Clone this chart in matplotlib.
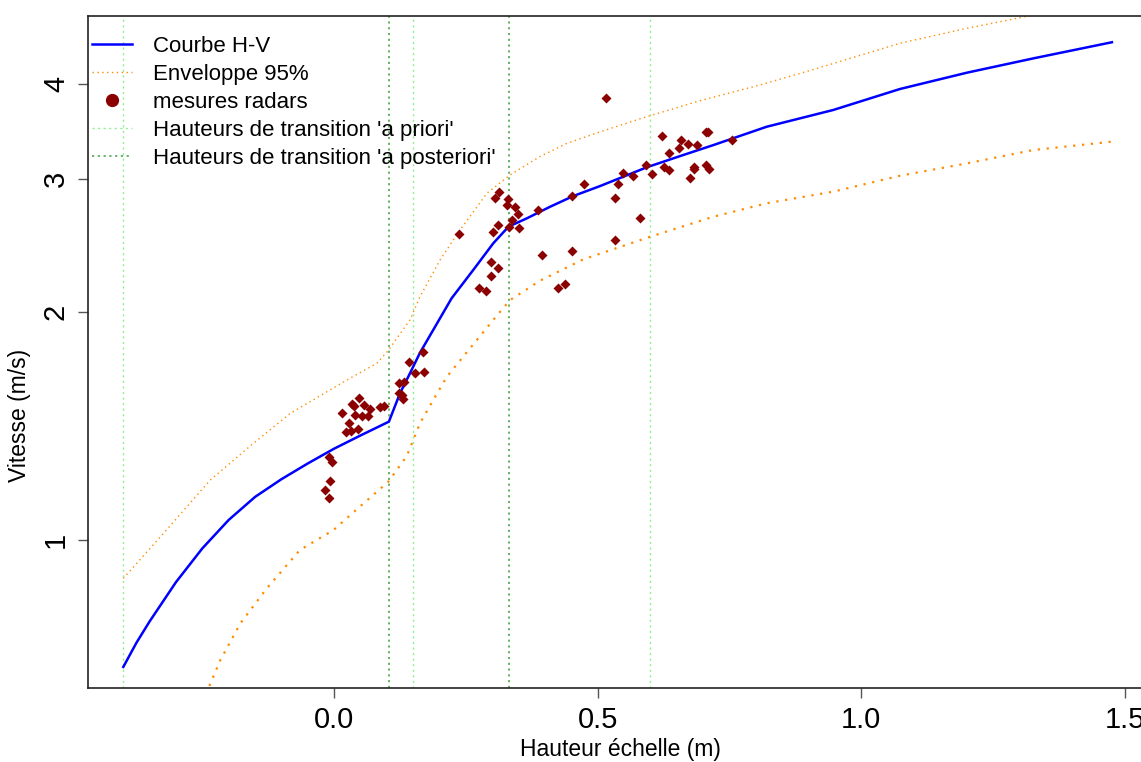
import matplotlib
matplotlib.use("Agg")
import matplotlib.pyplot as plt
from matplotlib.lines import Line2D
from matplotlib.ticker import FixedLocator, NullLocator

plt.rcParams["font.family"] = ["Liberation Sans", "DejaVu Sans"]

# courbe hauteur-vitesse (ajustée)
h_curve = [-0.40, -0.375, -0.35, -0.30, -0.25, -0.20, -0.15, -0.10, -0.05, 0.00,
           0.05, 0.104, 0.125, 0.144, 0.163, 0.223, 0.264, 0.302, 0.331, 0.366,
           0.410, 0.454, 0.505, 0.593, 0.657, 0.720, 0.821, 0.947, 1.074, 1.201,
           1.327, 1.476]
v_curve = [0.680, 0.732, 0.781, 0.880, 0.975, 1.063, 1.140, 1.203, 1.262, 1.320,
           1.374, 1.433, 1.562, 1.660, 1.767, 2.085, 2.272, 2.464, 2.592, 2.659,
           2.754, 2.845, 2.933, 3.104, 3.213, 3.322, 3.512, 3.695, 3.939, 4.139,
           4.323, 4.540]

# enveloppe 95 %
h_up = [-0.40, -0.324, -0.235, -0.153, -0.083, 0.024, 0.081, 0.103, 0.144, 0.163,
        0.201, 0.239, 0.290, 0.334, 0.390, 0.441, 0.500, 0.593, 0.694, 0.808,
        0.910, 1.074, 1.201, 1.318, 1.476]
v_up = [0.890, 1.020, 1.200, 1.342, 1.470, 1.626, 1.711, 1.780, 1.952, 2.095,
        2.342, 2.566, 2.869, 3.033, 3.206, 3.337, 3.449, 3.620, 3.800, 3.987,
        4.180, 4.526, 4.737, 4.917, 5.150]
h_lo = [-0.26, -0.240, -0.216, -0.178, -0.128, -0.065, -0.001, 0.056, 0.103, 0.138,
        0.163, 0.188, 0.214, 0.232, 0.302, 0.334, 0.391, 0.473, 0.600, 0.720,
        0.821, 0.947, 1.074, 1.201, 1.327, 1.476]
v_lo = [0.580, 0.634, 0.694, 0.776, 0.863, 0.970, 1.031, 1.118, 1.194, 1.291,
        1.426, 1.530, 1.643, 1.702, 1.952, 2.074, 2.200, 2.347, 2.514, 2.672,
        2.783, 2.883, 3.026, 3.142, 3.272, 3.356]

# mesures radars
h_obs = [0.142, 0.169, 0.154, 0.171, 0.123, 0.133, 0.123, 0.129, 0.131, 0.047,
         0.034, 0.038, 0.057, 0.015, 0.040, 0.053, 0.065, 0.068, 0.087, 0.095,
         0.028, 0.023, 0.032, 0.046, -0.009, -0.004, -0.008, -0.017, -0.009,
         0.237, 0.306, 0.313, 0.330, 0.328, 0.343, 0.349, 0.338, 0.311, 0.302,
         0.332, 0.351, 0.387, 0.452, 0.474, 0.298, 0.311, 0.298, 0.275, 0.288,
         0.395, 0.452, 0.425, 0.438,
         0.516, 0.533, 0.539, 0.548, 0.567, 0.592, 0.603, 0.581, 0.533, 0.622,
         0.636, 0.626, 0.636, 0.655, 0.658, 0.672, 0.689, 0.706, 0.710, 0.683,
         0.683, 0.676, 0.706, 0.712, 0.755]
v_obs = [1.718, 1.771, 1.661, 1.666, 1.612, 1.616, 1.563, 1.554, 1.535, 1.540,
         1.512, 1.503, 1.507, 1.471, 1.462, 1.458, 1.458, 1.489, 1.498, 1.503,
         1.427, 1.389, 1.393, 1.401, 1.287, 1.268, 1.196, 1.164, 1.136,
         2.535, 2.828, 2.880, 2.819, 2.768, 2.752, 2.694, 2.645, 2.605, 2.550,
         2.589, 2.581, 2.727, 2.845, 2.951, 2.328, 2.286, 2.231, 2.151, 2.131,
         2.378, 2.407, 2.151, 2.177,
         3.833, 2.828, 2.951, 3.051, 3.024, 3.126, 3.042, 2.661, 2.489, 3.414,
         3.242, 3.107, 3.079, 3.292, 3.373, 3.332, 3.322, 3.456, 3.456, 3.107,
         3.089, 3.005, 3.126, 3.089, 3.373]

h_prior = [-0.40, 0.15, 0.60]
h_post = [0.104, 0.332]

x_ticks = [0.0, 0.5, 1.0, 1.5]
x_ticklabels = ["0.0", "0.5", "1.0", "1.5"]
y_ticks = [1, 2, 3, 4]

ORANGE = "#FF8C00"
LIGHT_GREEN = "#90EE90"
DARK_GREEN = "#5AAE5A"

fig = plt.figure(figsize=(11.41, 7.62), dpi=100)
ax = fig.add_axes([88 / 1141, 74 / 762, 1064.5 / 1141, 672 / 762])

for h in h_prior:
    ax.axvline(h, color=LIGHT_GREEN, linewidth=1.0, dashes=(1.5, 2.5), zorder=1)
for h in h_post:
    ax.axvline(h, color=DARK_GREEN, linewidth=1.3, dashes=(1.2, 2.0), zorder=1)

ax.plot(h_up, v_up, color=ORANGE, linewidth=1.0, dashes=(1, 2.5), zorder=2)
ax.plot(h_lo, v_lo, color=ORANGE, linewidth=1.6, dashes=(1, 3), zorder=2)
ax.plot(h_curve, v_curve, color="#0000FF", linewidth=1.8, zorder=3)
ax.scatter(h_obs, v_obs, marker="D", s=26, color="#8B0000", linewidths=0, zorder=4)

ax.set_yscale("log")
ax.set_xlim(-0.467, 1.553)
ax.set_ylim(0.6378, 4.917)
ax.xaxis.set_major_locator(FixedLocator(x_ticks))
ax.set_xticklabels(x_ticklabels)
ax.yaxis.set_major_locator(FixedLocator(y_ticks))
ax.yaxis.set_minor_locator(NullLocator())
ax.set_yticklabels([str(t) for t in y_ticks], rotation=90, va="center")
ax.tick_params(axis="both", labelsize=21, length=7, width=1, color="#555555",
               direction="out", pad=6)

for s in ax.spines.values():
    s.set_linewidth(1.2)
    s.set_color("#222222")

ax.set_xlabel("Hauteur échelle (m)", fontsize=16.5, labelpad=3)
ax.set_ylabel("Vitesse (m/s)", fontsize=16.5)
ax.yaxis.set_label_coords(-57 / 1064.5, 0.406)

handles = [
    Line2D([], [], color="#0000FF", linewidth=1.8),
    Line2D([], [], color=ORANGE, linewidth=1.0, dashes=(1, 2.5)),
    Line2D([], [], color="#8B0000", marker="o", markersize=8.5, linestyle="none"),
    Line2D([], [], color=LIGHT_GREEN, linewidth=1.0, dashes=(1.5, 2.5)),
    Line2D([], [], color=DARK_GREEN, linewidth=1.3, dashes=(1.2, 2.0)),
]
labels = ["Courbe H-V", "Enveloppe 95%", "mesures radars",
          "Hauteurs de transition 'a priori'", "Hauteurs de transition 'a posteriori'"]
ax.legend(handles, labels, loc="upper left", bbox_to_anchor=(4 / 1064.5, 1 - 20 / 672),
          frameon=False, fontsize=16, borderpad=0, borderaxespad=0,
          handlelength=1.8, handletextpad=0.95, labelspacing=0.31)

fig.savefig("out.png", dpi=100)
